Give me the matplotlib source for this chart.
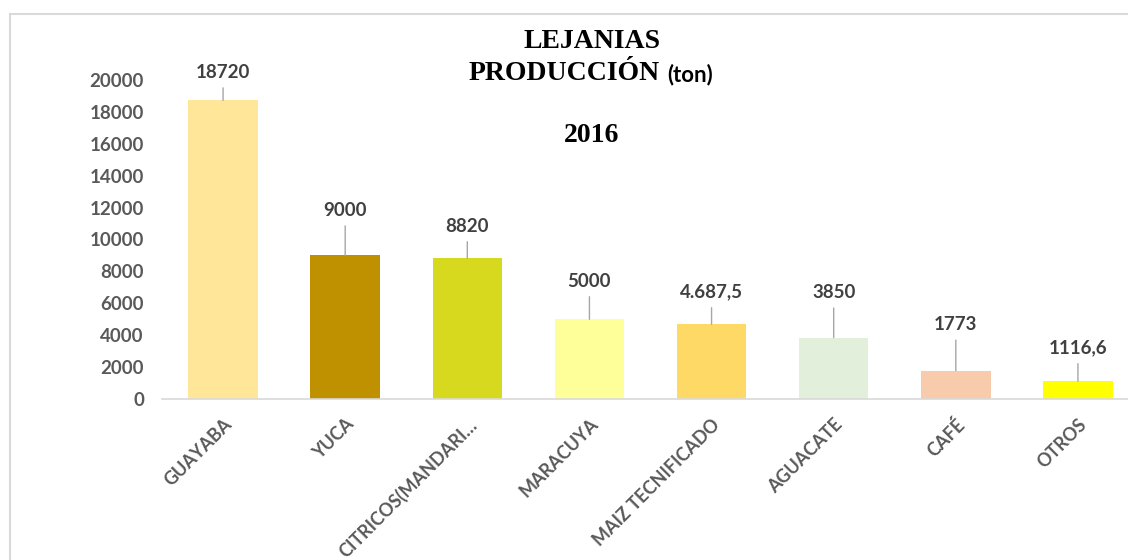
import matplotlib
matplotlib.use("Agg")
import matplotlib.pyplot as plt
from matplotlib.patches import Rectangle
from matplotlib.font_manager import FontProperties

categories = ["GUAYABA", "YUCA", "CITRICOS(MANDARI…", "MARACUYA",
              "MAIZ TECNIFICADO", "AGUACATE", "CAFÉ", "OTROS"]
values = [18720, 9000, 8820, 5000, 4687.5, 3850, 1773, 1116.6]
value_labels = ["18720", "9000", "8820", "5000", "4.687,5", "3850", "1773", "1116,6"]
yticks = [0, 2000, 4000, 6000, 8000, 10000, 12000, 14000, 16000, 18000, 20000]

colors = ["#FFE699", "#BF9000", "#D7D91E", "#FFFF99",
          "#FFD966", "#E2EFDA", "#F8CBAD", "#FFFF00"]
label_offsets_px = [28, 45, 32, 38, 32, 45, 46, 33]

W, H = 1128, 560
fig = plt.figure(figsize=(W / 100, H / 100), dpi=100)
fig.patch.set_facecolor("white")

# outer frame
fig.patches.append(Rectangle((10 / W, -0.1), 1.2, (H - 14) / H + 0.1,
                             transform=fig.transFigure, fill=False,
                             edgecolor="#D9D9D9", linewidth=1.5))

left, right = 162 / W, 1139 / W
bottom, top = (H - 399) / H, (H - 80) / H
ax = fig.add_axes([left, bottom, right - left, top - bottom])

x = list(range(len(categories)))
ax.bar(x, values, width=0.57, color=colors, zorder=2)
ax.set_xlim(-0.5, len(categories) - 0.5)
ax.set_ylim(0, 20000)
ax.set_yticks(yticks)
ax.set_yticklabels([str(t) for t in yticks])

for s in ["top", "right", "left"]:
    ax.spines[s].set_visible(False)
ax.spines["bottom"].set_color("#D9D9D9")
ax.spines["bottom"].set_linewidth(1.2)

ax.tick_params(axis="both", length=0)
ax.tick_params(axis="y", pad=13)
for lab in ax.get_yticklabels():
    lab.set_fontproperties(FontProperties(family="Lato", weight="bold", size=13.5))
    lab.set_color("#595959")

ax.set_xticks(x)
ax.set_xticklabels(categories, rotation=45, ha="right", rotation_mode="anchor",
                   fontfamily="Lato", fontweight="bold", fontsize=13, color="#595959")
ax.tick_params(axis="x", pad=12)

for xi, v, lab, off in zip(x, values, value_labels, label_offsets_px):
    ax.annotate(lab, xy=(xi, v), xytext=(0, off), textcoords="offset pixels",
                ha="center", va="center", fontfamily="Lato", fontweight="bold",
                fontsize=13.5, color="#404040",
                arrowprops=dict(arrowstyle="-", color="#A6A6A6", lw=1,
                                shrinkA=3, shrinkB=0))

# titles
fig.text(592 / W, 1 - 42 / H, "LEJANIAS", ha="center", va="center",
         fontfamily="Liberation Serif", fontweight="bold", fontsize=20, color="black")
fig.text(660 / W, 1 - 74 / H, "PRODUCCIÓN", ha="right", va="center",
         fontfamily="Liberation Serif", fontweight="bold", fontsize=20, color="black")
fig.text(667 / W, 1 - 75 / H, "(ton)", ha="left", va="center",
         fontfamily="Lato", fontweight="bold", fontsize=16, color="black")
fig.text(592 / W, 1 - 136 / H, "2016", ha="center", va="center",
         fontfamily="Liberation Serif", fontweight="bold", fontsize=20, color="black")

fig.savefig("out.png", dpi=100, facecolor="white")
